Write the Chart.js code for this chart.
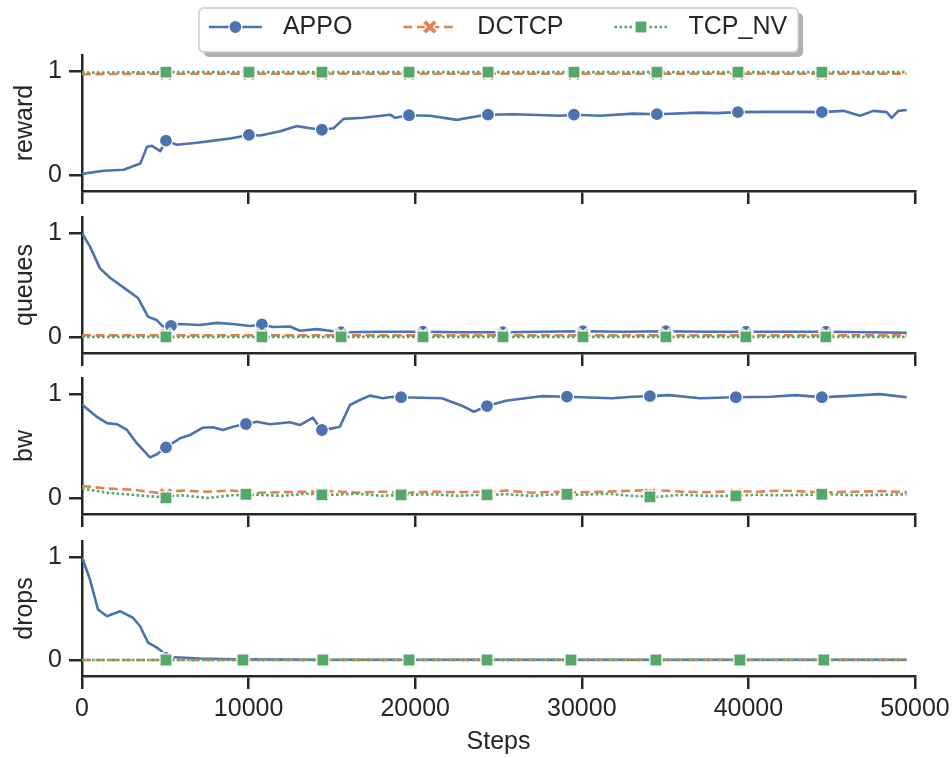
<!DOCTYPE html>
<html>
<head>
<meta charset="utf-8">
<script src="https://cdn.jsdelivr.net/npm/chart.js@4.4.1/dist/chart.umd.min.js"></script>
<style>
  body { margin: 0; background: #fff; }
  #wrap { position: relative; width: 952px; height: 758px; }
  canvas { position: absolute; left: 0; }
</style>
</head>
<body>
<div id="wrap">
  <canvas id="c1" width="952" height="205" style="top:0px"></canvas>
  <canvas id="c2" width="952" height="162" style="top:205px"></canvas>
  <canvas id="c3" width="952" height="161" style="top:367px"></canvas>
  <canvas id="c4" width="952" height="230" style="top:528px"></canvas>
</div>
<script>
// series and panels
const seriesNames = ['APPO', 'DCTCP', 'TCP_NV'];
const panelLabels = ['reward', 'queues', 'bw', 'drops'];
const yTicks = [0, 1];
const flatSteps = [0, 5000, 10000, 15000, 20000, 25000, 30000, 35000, 40000, 45000, 49500];

// reward
const rewardSteps = [0, 1300, 2500, 3500, 3900, 4200, 4700, 5040, 5700, 6900, 7900, 8900, 10020, 10700, 11900, 12900, 13700, 14400, 15100, 15700, 16900, 18500, 18800, 19630, 20900, 22500, 23900, 24370, 25900, 28700, 29530, 31100, 33100, 34510, 37100, 38100, 39370, 41100, 43100, 44410, 45700, 46700, 47500, 48300, 48600, 49000, 49500];
const rewardAppo = [0.01, 0.04, 0.05, 0.11, 0.27, 0.28, 0.23, 0.33, 0.29, 0.31, 0.33, 0.35, 0.385, 0.38, 0.42, 0.47, 0.45, 0.435, 0.45, 0.54, 0.55, 0.58, 0.55, 0.575, 0.57, 0.53, 0.57, 0.58, 0.585, 0.57, 0.58, 0.57, 0.59, 0.585, 0.6, 0.595, 0.605, 0.607, 0.607, 0.605, 0.617, 0.57, 0.617, 0.605, 0.55, 0.617, 0.625];
const rewardAppoMarkSteps = [5040, 10020, 14400, 19630, 24370, 29530, 34510, 39370, 44410];
const rewardMarkSteps = [5040, 10020, 14400, 19630, 24370, 29530, 34510, 39370, 44410];
const rewardDctcp = [0.97, 0.975, 0.975, 0.975, 0.975, 0.975, 0.975, 0.975, 0.975, 0.975, 0.975];
const rewardDctcpMarks = [0.975, 0.975, 0.975, 0.975, 0.975, 0.975, 0.975, 0.975, 0.975];
const rewardTcpnv = [0.985, 0.99, 0.99, 0.99, 0.99, 0.99, 0.99, 0.99, 0.99, 0.99, 0.99];
const rewardTcpnvMarks = [0.99, 0.99, 0.99, 0.99, 0.99, 0.99, 0.99, 0.99, 0.99];

// queues
const queueSteps = [0, 480, 1080, 1680, 2460, 3360, 3960, 4500, 4860, 5340, 5880, 7080, 8100, 9060, 10080, 10800, 11460, 12480, 13080, 14100, 15550, 17900, 20470, 22800, 25270, 27500, 30070, 32500, 35050, 37500, 39850, 42300, 44650, 47000, 49500];
const queueAppo = [1.0, 0.87, 0.66, 0.57, 0.48, 0.375, 0.195, 0.16, 0.1, 0.105, 0.124, 0.115, 0.135, 0.124, 0.105, 0.12, 0.095, 0.1, 0.06, 0.075, 0.045, 0.05, 0.05, 0.045, 0.045, 0.05, 0.055, 0.05, 0.055, 0.05, 0.05, 0.05, 0.05, 0.045, 0.04];
const queueAppoMarkSteps = [5340, 10800, 15550, 20470, 25270, 30070, 35050, 39850, 44650];
const queueMarkSteps = [5040, 10800, 15550, 20470, 25270, 30070, 35050, 39850, 44650];
const queueDctcp = [0.015, 0.015, 0.015, 0.015, 0.015, 0.015, 0.015, 0.015, 0.015, 0.015, 0.015];
const queueDctcpMarks = [0.015, 0.015, 0.015, 0.015, 0.015, 0.015, 0.015, 0.015, 0.015];
const queueTcpnv = [0, 0, 0, 0, 0, 0, 0, 0, 0, 0, 0];
const queueTcpnvMarks = [0, 0, 0, 0, 0, 0, 0, 0, 0];

// bw
const bwSteps = [0, 900, 1500, 2100, 2700, 3300, 4080, 4500, 5040, 5880, 6480, 7260, 7860, 8460, 9060, 9840, 10500, 11280, 12480, 13080, 13860, 14160, 14400, 15060, 15480, 16080, 16680, 17280, 18060, 18660, 19150, 21600, 22920, 23520, 24310, 25440, 27550, 29110, 31810, 33070, 34090, 35230, 37090, 39250, 41350, 42850, 44410, 45800, 47900, 49500];
const bwAppo = [0.9, 0.78, 0.72, 0.71, 0.655, 0.525, 0.39, 0.42, 0.487, 0.574, 0.606, 0.676, 0.68, 0.654, 0.686, 0.712, 0.734, 0.709, 0.728, 0.702, 0.773, 0.702, 0.654, 0.67, 0.686, 0.895, 0.943, 0.985, 0.96, 0.975, 0.97, 0.96, 0.88, 0.83, 0.885, 0.936, 0.98, 0.975, 0.96, 0.975, 0.98, 0.99, 0.96, 0.97, 0.975, 0.99, 0.97, 0.98, 1.0, 0.97];
const bwAppoMarkSteps = [5040, 9840, 14400, 19150, 24310, 29110, 34090, 39250, 44410];
const bwMarkSteps = [5040, 9840, 14400, 19150, 24310, 29110, 34090, 39250, 44410];
const bwFlatSteps = [0, 1500, 3000, 4500, 6000, 7500, 9000, 10500, 12000, 13500, 15000, 16500, 18000, 19500, 21000, 22500, 24000, 25500, 27000, 28500, 30000, 31500, 33000, 34500, 36000, 37500, 39000, 40500, 42000, 43500, 45000, 46500, 48000, 49500];
const bwDctcp = [0.115, 0.09, 0.08, 0.05, 0.07, 0.06, 0.07, 0.05, 0.055, 0.06, 0.065, 0.05, 0.06, 0.05, 0.06, 0.055, 0.06, 0.07, 0.05, 0.06, 0.055, 0.06, 0.07, 0.075, 0.06, 0.055, 0.065, 0.06, 0.07, 0.06, 0.055, 0.06, 0.065, 0.055];
const bwDctcpMarks = [0.03, 0.035, 0.03, 0.03, 0.03, 0.035, 0.03, 0.03, 0.035];
const bwTcpnv = [0.09, 0.05, 0.03, 0.01, 0.025, 0.0, 0.025, 0.03, 0.02, 0.04, 0.03, 0.04, 0.02, 0.03, 0.035, 0.02, 0.03, 0.035, 0.02, 0.035, 0.03, 0.04, 0.02, 0.01, 0.03, 0.02, 0.02, 0.03, 0.025, 0.03, 0.035, 0.025, 0.03, 0.035];
const bwTcpnvMarks = [0.0, 0.035, 0.03, 0.03, 0.03, 0.035, 0.01, 0.02, 0.035];

// drops
const dropSteps = [0, 480, 960, 1500, 2280, 3060, 3480, 3960, 4500, 4860, 5040, 5280, 5880, 7080, 9060, 9660, 12000, 14460, 17000, 19630, 24310, 29350, 34450, 39490, 44530, 49500];
const dropAppo = [1.0, 0.78, 0.49, 0.425, 0.474, 0.41, 0.33, 0.17, 0.12, 0.076, 0.02, 0.03, 0.025, 0.015, 0.008, 0.006, 0.004, 0.003, 0.003, 0.002, 0.002, 0.002, 0.002, 0.002, 0.002, 0.002];
const dropAppoMarkSteps = [5040, 9660, 14460, 19630, 24310, 29350, 34450, 39490, 44530];
const dropMarkSteps = [5040, 9660, 14460, 19630, 24310, 29350, 34450, 39490, 44530];
const dropDctcp = [0, 0, 0, 0, 0, 0, 0, 0, 0, 0, 0];
const dropDctcpMarks = [0, 0, 0, 0, 0, 0, 0, 0, 0];
const dropTcpnv = [0, 0, 0, 0, 0, 0, 0, 0, 0, 0, 0];
const dropTcpnvMarks = [0, 0, 0, 0, 0, 0, 0, 0, 0];

const INK = '#262626';
const BLUE = '#4c72b0', ORANGE = '#dd8452', GREEN = '#55a868';
const FONT = { family: "'Liberation Sans', Arial, sans-serif", size: 25 };

// filled "X" marker like matplotlib's
function makeXMarker(color) {
    const c = document.createElement('canvas');
    c.width = c.height = 20;
    const g = c.getContext('2d');
    const a = 8, w = 2.6;
    g.translate(10, 10);
    g.rotate(Math.PI / 4);
    g.beginPath();
    g.moveTo(-w, -a); g.lineTo(w, -a); g.lineTo(w, -w); g.lineTo(a, -w);
    g.lineTo(a, w); g.lineTo(w, w); g.lineTo(w, a); g.lineTo(-w, a);
    g.lineTo(-w, w); g.lineTo(-a, w); g.lineTo(-a, -w); g.lineTo(-w, -w);
    g.closePath();
    g.fillStyle = color;
    g.fill();
    g.strokeStyle = '#fff';
    g.lineWidth = 1.2;
    g.stroke();
    return c;
}

const styles = [
    { color: BLUE, dash: [], point: 'circle', radius: 6.5 },
    { color: ORANGE, dash: [9, 4.5], point: makeXMarker(ORANGE), radius: 7.5 },
    { color: GREEN, dash: [2.6, 2.4], point: 'rect', radius: 8.5 }
];

const pts = (xs, ys) => xs.map((x, i) => ({ x: x, y: ys[i] }));

// legend box drawn on the top panel
const boxLegend = {
    id: 'boxLegend',
    afterDraw(chart) {
        const ctx = chart.ctx;
        const area = chart.chartArea;
        const handle = 53, pad = 21, colGap = 51, cy = 27;
        ctx.save();
        ctx.font = `${FONT.size}px ${FONT.family}`;
        const widths = seriesNames.map(n => ctx.measureText(n).width);
        const inner = widths.reduce((s, w) => s + handle + pad + w, 0) + colGap * (seriesNames.length - 1);
        const boxW = inner + 21, boxH = 44;
        const left = (area.left + area.right) / 2 - boxW / 2, top = 8;

        ctx.fillStyle = '#b0b0b0';
        ctx.beginPath(); ctx.roundRect(left + 5, top + 5, boxW, boxH, 5); ctx.fill();
        ctx.fillStyle = '#fff';
        ctx.strokeStyle = '#cccccc';
        ctx.lineWidth = 1.5;
        ctx.beginPath(); ctx.roundRect(left, top, boxW, boxH, 5); ctx.fill(); ctx.stroke();

        let x = left + 10;
        seriesNames.forEach((name, i) => {
            const st = styles[i];
            ctx.strokeStyle = st.color;
            ctx.lineWidth = 2.6;
            ctx.setLineDash(st.dash);
            ctx.beginPath(); ctx.moveTo(x, cy); ctx.lineTo(x + handle, cy); ctx.stroke();
            ctx.setLineDash([]);
            ctx.fillStyle = st.color;
            ctx.strokeStyle = '#fff';
            ctx.lineWidth = 1.2;
            Chart.helpers.drawPoint(ctx, { pointStyle: st.point, radius: st.radius, rotation: 0, borderWidth: 1.2 }, x + handle / 2, cy);
            ctx.fillStyle = INK;
            ctx.textBaseline = 'middle';
            ctx.textAlign = 'left';
            ctx.fillText(name, x + handle + pad, cy);
            x += handle + pad + widths[i] + colGap;
        });
        ctx.restore();
    }
};

function lineSet(data, i, order) {
    return {
        data: data, borderColor: styles[i].color, borderWidth: 2.6, borderDash: styles[i].dash,
        borderJoinStyle: 'round', pointRadius: 0, tension: 0, order: order, fill: false
    };
}
function markSet(data, i, order) {
    return {
        data: data, showLine: false, pointStyle: styles[i].point, pointRadius: styles[i].radius,
        backgroundColor: styles[i].color, borderColor: '#fff', pointBorderWidth: 1.2, order: order
    };
}

function makePanel(p) {
    const appoMarks = p.appoMarkSteps.map(s => ({ x: s, y: p.appo[p.steps.indexOf(s)] }));
    const gridOpts = { drawOnChartArea: false, drawTicks: true, tickLength: 13, color: INK, lineWidth: 2.5 };
    const borderOpts = { display: true, color: INK, width: 2.5 };
    new Chart(document.getElementById(p.id), {
        type: 'line',
        data: {
            datasets: [
                markSet(pts(p.markSteps, p.nvMarks), 2, 0),
                lineSet(pts(p.flatSteps, p.nv), 2, 1),
                markSet(pts(p.markSteps, p.dcMarks), 1, 2),
                lineSet(pts(p.flatSteps, p.dc), 1, 3),
                markSet(appoMarks, 0, 4),
                lineSet(pts(p.steps, p.appo), 0, 5)
            ]
        },
        options: {
            responsive: false,
            animation: false,
            events: [],
            layout: { padding: { top: p.padTop, left: 0, right: 37, bottom: 0 } },
            plugins: { legend: { display: false }, tooltip: { enabled: false } },
            scales: {
                x: {
                    type: 'linear', min: 0, max: 50000,
                    ticks: { stepSize: 10000, display: p.last, color: INK, font: FONT, padding: 5, maxRotation: 0, callback: v => String(v) },
                    grid: gridOpts,
                    border: borderOpts,
                    title: { display: p.last, text: 'Steps', color: INK, font: FONT, padding: { top: 0, bottom: 1 } },
                    afterFit: s => { s.height = p.axisH; s.paddingLeft = 0; s.paddingRight = 0; }
                },
                y: {
                    min: -0.155, max: 1.155,
                    afterBuildTicks: s => { s.ticks = yTicks.map(v => ({ value: v })); },
                    ticks: { color: INK, font: FONT, padding: 7, callback: v => String(v) },
                    grid: gridOpts,
                    border: borderOpts,
                    title: { display: true, text: p.label, color: INK, font: FONT, padding: { top: 10, bottom: 0 } },
                    afterFit: s => { s.width = 82; s.paddingTop = 0; s.paddingBottom = 0; }
                }
            }
        },
        plugins: p.legend ? [boxLegend] : []
    });
}

makePanel({ id: 'c1', label: panelLabels[0], steps: rewardSteps, appo: rewardAppo, appoMarkSteps: rewardAppoMarkSteps,
    markSteps: rewardMarkSteps, flatSteps: flatSteps, dc: rewardDctcp, dcMarks: rewardDctcpMarks, nv: rewardTcpnv, nvMarks: rewardTcpnvMarks,
    padTop: 55, axisH: 14, last: false, legend: true });
makePanel({ id: 'c2', label: panelLabels[1], steps: queueSteps, appo: queueAppo, appoMarkSteps: queueAppoMarkSteps,
    markSteps: queueMarkSteps, flatSteps: flatSteps, dc: queueDctcp, dcMarks: queueDctcpMarks, nv: queueTcpnv, nvMarks: queueTcpnvMarks,
    padTop: 12, axisH: 14, last: false });
makePanel({ id: 'c3', label: panelLabels[2], steps: bwSteps, appo: bwAppo, appoMarkSteps: bwAppoMarkSteps,
    markSteps: bwMarkSteps, flatSteps: bwFlatSteps, dc: bwDctcp, dcMarks: bwDctcpMarks, nv: bwTcpnv, nvMarks: bwTcpnvMarks,
    padTop: 11, axisH: 14, last: false });
makePanel({ id: 'c4', label: panelLabels[3], steps: dropSteps, appo: dropAppo, appoMarkSteps: dropAppoMarkSteps,
    markSteps: dropMarkSteps, flatSteps: flatSteps, dc: dropDctcp, dcMarks: dropDctcpMarks, nv: dropTcpnv, nvMarks: dropTcpnvMarks,
    padTop: 13, axisH: 82, last: true });
</script>
</body>
</html>
